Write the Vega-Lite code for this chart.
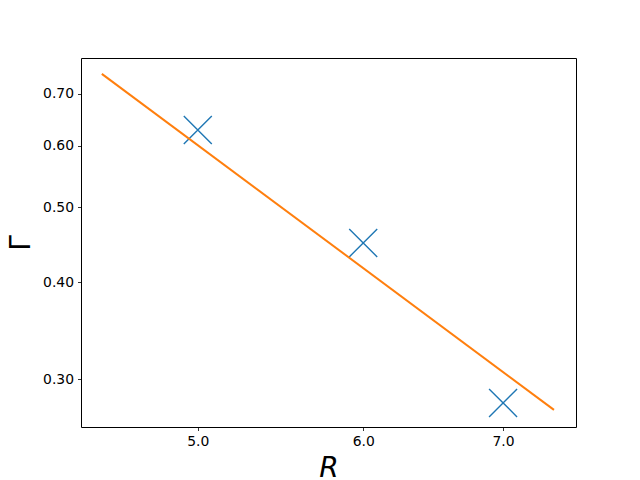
{
  "$schema": "https://vega.github.io/schema/vega-lite/v6.json",
  "autosize": "none",
  "width": 495,
  "height": 369,
  "padding": {"left": 81, "top": 58, "right": 64, "bottom": 53},
  "background": "white",
  "config": {
    "view": {"stroke": "black", "strokeWidth": 1},
    "font": "DejaVu Sans",
    "axis": {
      "grid": false,
      "domain": false,
      "tickColor": "black",
      "tickSize": 3.5,
      "tickWidth": 0.8,
      "labelColor": "black",
      "labelFont": "DejaVu Sans",
      "labelFontSize": 13.9,
      "labelPadding": 4,
      "titleColor": "black",
      "titleFontWeight": "normal"
    }
  },
  "datasets": {
    "points": [
      {"R": 5, "Gamma": 0.629},
      {"R": 6, "Gamma": 0.4496},
      {"R": 7, "Gamma": 0.2795}
    ],
    "fit": [
      {"R": 4.498, "Gamma": 0.743},
      {"R": 7.404, "Gamma": 0.2738}
    ]
  },
  "layer": [
    {
      "data": {"name": "points"},
      "mark": {
        "type": "point",
        "shape": "M-1,-1L1,1M-1,1L1,-1",
        "size": 784,
        "filled": false,
        "stroke": "#1f77b4",
        "strokeWidth": 1.4,
        "opacity": 1
      },
      "encoding": {
        "x": {
          "field": "R",
          "type": "quantitative",
          "scale": {"type": "log", "domain": [4.396, 7.586], "nice": false, "zero": false},
          "axis": {
            "values": [5, 6, 7],
            "format": ".1f",
            "title": "R",
            "titleFont": "DejaVu Sans",
            "titleFontStyle": "italic",
            "titleFontSize": 28,
            "titlePadding": 6
          }
        },
        "y": {
          "field": "Gamma",
          "type": "quantitative",
          "scale": {"type": "log", "domain": [0.2602, 0.7789], "nice": false, "zero": false},
          "axis": {
            "values": [0.3, 0.4, 0.5, 0.6, 0.7],
            "format": ".2f",
            "title": "Γ",
            "titleFont": "DejaVu Sans",
            "titleFontSize": 28,
            "titlePadding": 7
          }
        }
      }
    },
    {
      "data": {"name": "fit"},
      "mark": {"type": "line", "color": "#ff7f0e", "strokeWidth": 2},
      "encoding": {
        "x": {"field": "R", "type": "quantitative"},
        "y": {"field": "Gamma", "type": "quantitative"}
      }
    }
  ]
}
